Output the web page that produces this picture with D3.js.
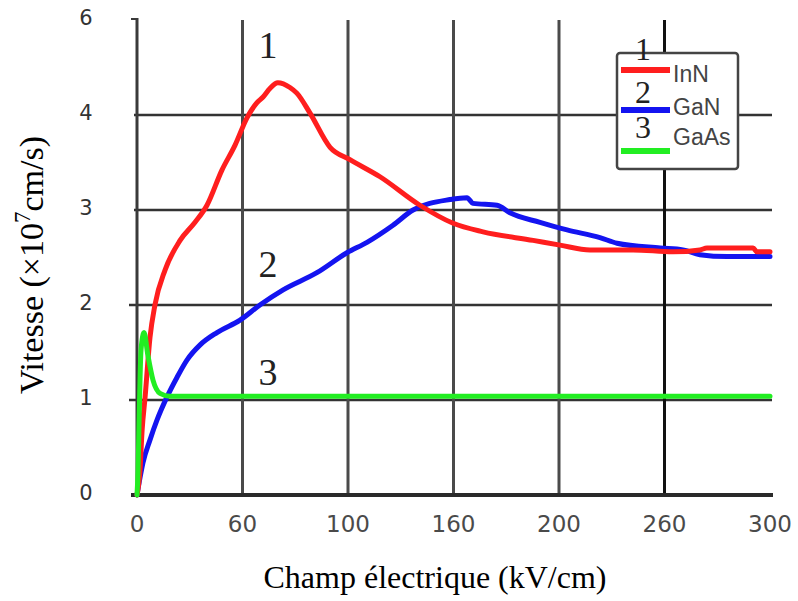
<!DOCTYPE html>
<html>
<head>
<meta charset="utf-8">
<script src="https://cdn.jsdelivr.net/npm/d3@7"></script>
<style>
  html, body { margin: 0; padding: 0; background: #fff; }
  svg { display: block; }
</style>
</head>
<body>
<svg id="chart" width="798" height="601"></svg>
<script>
// Axis tick values (as printed on the axes)
const xTicks = [0, 60, 100, 160, 200, 260, 300];
const yTicks = [0, 1, 2, 3, 4, 6];
const xTickLabels = ["0", "60", "100", "160", "200", "260", "300"];
const yTickLabels = ["0", "1", "2", "3", "4", "6"];

// Drift velocity vs electric field: [field (kV/cm), velocity (1e7 cm/s)]
const inn = [
  [0, 0], [1.7, 0.26], [2.9, 0.68], [4.6, 1.03], [7.4, 1.66], [10.2, 2.0],
  [16, 2.37], [24.5, 2.68], [33, 2.87], [39.8, 3.05], [48.3, 3.42],
  [55.7, 3.68], [61.7, 3.97], [65.5, 4.26], [67.8, 4.38], [70.4, 4.56],
  [73.4, 4.68], [78, 4.58], [80.6, 4.46], [85.6, 4.04], [93.2, 3.66],
  [101.1, 3.53], [118.2, 3.35], [140.9, 3.05], [159.8, 2.86], [171.2, 2.77],
  [190.2, 2.68], [200.6, 2.63], [217.6, 2.58], [242.1, 2.58], [263.2, 2.56],
  [273.4, 2.58], [276.1, 2.6], [293.6, 2.6], [295, 2.56], [300, 2.56]
];
const gan = [
  [0, 0], [1.7, 0.18], [3.4, 0.34], [7.4, 0.58], [11.4, 0.79], [17, 1.03],
  [22.8, 1.24], [28.4, 1.42], [35.9, 1.58], [45.5, 1.71], [58.6, 1.84],
  [66.6, 2.0], [75.4, 2.16], [88.2, 2.34], [99.6, 2.55], [110.8, 2.66],
  [125.6, 2.84], [137, 3.0], [158, 3.11], [165.1, 3.13], [167.4, 3.07],
  [176.5, 3.05], [181.4, 2.97], [192.8, 2.87], [204.6, 2.79], [223.3, 2.71],
  [233, 2.65], [257.5, 2.6], [267, 2.58], [273.4, 2.53], [283.7, 2.51],
  [300, 2.51]
];
const gaas = [
  [0, 0], [0.6, 0.26], [1.2, 0.79], [2.3, 1.53], [4, 1.71], [6.2, 1.47],
  [9.1, 1.21], [13.1, 1.07], [18.7, 1.04], [300, 1.04]
];

const seriesNames = ["InN", "GaN", "GaAs"];
const seriesNumbers = ["1", "2", "3"];
const seriesColors = ["#ff1e1e", "#1414f0", "#22ee22"];
const seriesData = [inn, gan, gaas];

// Layout
const plotLeft = 137, plotBottom = 495, plotTop = 20, stepX = 105.5, stepY = 95;

const svg = d3.select("#chart");

// Evenly spaced grid cells, one per printed tick
const x = d3.scaleLinear()
  .domain(xTicks)
  .range(xTicks.map((d, i) => plotLeft + i * stepX));
const y = d3.scaleLinear()
  .domain(yTicks)
  .range(yTicks.map((d, i) => plotBottom - i * stepY));

const xMax = x(300) + 2;

// Horizontal grid lines
svg.append("g").selectAll("line")
  .data(yTicks.filter(d => d > 0 && d < 6))
  .join("line")
  .attr("x1", d => d <= 2 ? plotLeft - 8 : plotLeft - 3)
  .attr("x2", xMax)
  .attr("y1", d => y(d)).attr("y2", d => y(d))
  .attr("stroke", "#333").attr("stroke-width", 2.5);

// Vertical grid lines
svg.append("g").selectAll("line")
  .data(xTicks.filter(d => d > 0 && d < 300))
  .join("line")
  .attr("x1", d => x(d)).attr("x2", d => x(d))
  .attr("y1", plotTop).attr("y2", plotBottom)
  .attr("stroke", d => d === 260 ? "#111" : "#4a4a4a")
  .attr("stroke-width", 3);

// Axes
svg.append("line")
  .attr("x1", plotLeft).attr("x2", plotLeft)
  .attr("y1", plotTop - 2).attr("y2", plotBottom)
  .attr("stroke", "#3a3a3a").attr("stroke-width", 3);
svg.append("line")
  .attr("x1", plotLeft - 6).attr("x2", plotLeft)
  .attr("y1", plotTop - 1).attr("y2", plotTop - 1)
  .attr("stroke", "#3a3a3a").attr("stroke-width", 2);
svg.append("line")
  .attr("x1", plotLeft - 6).attr("x2", xMax + 1)
  .attr("y1", plotBottom).attr("y2", plotBottom)
  .attr("stroke", "#2a2a2a").attr("stroke-width", 4);

// Tick labels
svg.append("g").selectAll("text")
  .data(xTicks)
  .join("text")
  .attr("x", d => x(d))
  .attr("y", 532)
  .attr("text-anchor", "middle")
  .attr("font-family", "DejaVu Sans, sans-serif")
  .attr("font-size", 23)
  .attr("fill", "#4a4a4a")
  .text((d, i) => xTickLabels[i]);

svg.append("g").selectAll("text")
  .data(yTicks)
  .join("text")
  .attr("x", 86)
  .attr("y", d => y(d) - 3)
  .attr("dy", "0.36em")
  .attr("text-anchor", "middle")
  .attr("font-family", "DejaVu Sans, sans-serif")
  .attr("font-size", 21)
  .attr("fill", "#333")
  .text((d, i) => yTickLabels[i]);

// Curves
const line = d3.line()
  .x(d => x(d[0])).y(d => y(d[1]))
  .curve(d3.curveMonotoneX);
[1, 0, 2].forEach(i => {
  svg.append("path")
    .datum(seriesData[i])
    .attr("d", line)
    .attr("fill", "none")
    .attr("stroke", seriesColors[i])
    .attr("stroke-width", 5)
    .attr("stroke-linejoin", "round")
    .attr("stroke-linecap", "round");
});

// Curve numbers
const curveLabelPos = [[268, 58], [268, 277], [268, 385]];
svg.append("g").selectAll("text")
  .data(seriesNumbers)
  .join("text")
  .attr("x", (d, i) => curveLabelPos[i][0])
  .attr("y", (d, i) => curveLabelPos[i][1])
  .attr("text-anchor", "middle")
  .attr("font-family", "Liberation Serif, serif")
  .attr("font-size", 38)
  .attr("fill", "#222")
  .text(d => d);

// Legend
const legend = svg.append("g");
legend.append("rect")
  .attr("x", 617).attr("y", 53)
  .attr("width", 121).attr("height", 116)
  .attr("rx", 3)
  .attr("fill", "#fff")
  .attr("stroke", "#444").attr("stroke-width", 2.5);

const legendLineY = [70, 110, 151];
const legendTextY = [82, 115, 145];
const legendNumY = [60, 103, 138];

legend.selectAll(".sw")
  .data(seriesNames)
  .join("line")
  .attr("class", "sw")
  .attr("x1", 621).attr("x2", 670)
  .attr("y1", (d, i) => legendLineY[i]).attr("y2", (d, i) => legendLineY[i])
  .attr("stroke", (d, i) => seriesColors[i])
  .attr("stroke-width", 6);

legend.selectAll(".lt")
  .data(seriesNames)
  .join("text")
  .attr("class", "lt")
  .attr("x", 673)
  .attr("y", (d, i) => legendTextY[i])
  .attr("font-family", "Liberation Sans, Arial, sans-serif")
  .attr("font-size", 23)
  .attr("fill", "#444")
  .text(d => d);

legend.selectAll(".ln")
  .data(seriesNumbers)
  .join("text")
  .attr("class", "ln")
  .attr("x", 643)
  .attr("y", (d, i) => legendNumY[i])
  .attr("text-anchor", "middle")
  .attr("font-family", "Liberation Serif, serif")
  .attr("font-size", 32)
  .attr("fill", "#222")
  .text(d => d);

// Axis titles
const yTitle = svg.append("text")
  .attr("transform", "translate(43,265) rotate(-90)")
  .attr("text-anchor", "middle")
  .attr("font-family", "Liberation Serif, serif")
  .attr("font-size", 34)
  .attr("fill", "#000");
yTitle.append("tspan").text("Vitesse (\u00d710");
yTitle.append("tspan").attr("dy", -13).attr("font-size", 23).text("7");
yTitle.append("tspan").attr("dy", 13).text("cm/s)");

svg.append("text")
  .attr("x", 435).attr("y", 588)
  .attr("text-anchor", "middle")
  .attr("font-family", "Liberation Serif, serif")
  .attr("font-size", 32)
  .attr("fill", "#000")
  .text("Champ \u00e9lectrique (kV/cm)");
</script>
</body>
</html>
